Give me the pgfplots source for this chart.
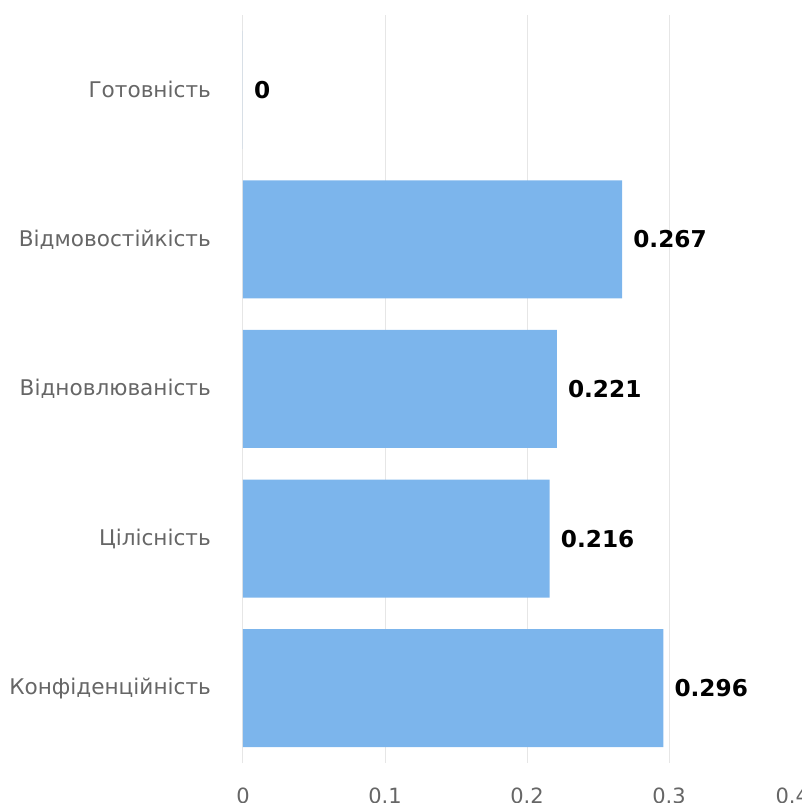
\documentclass[border=0pt]{standalone}
\usepackage{pgfplots}
\pgfplotsset{compat=1.18}
\usepackage{fontspec}
\setmainfont{DejaVu Sans}
\definecolor{barblue}{HTML}{7CB5EC}
\definecolor{gridgray}{HTML}{E6E6E6}
\definecolor{axisblue}{HTML}{CCD6EB}
\definecolor{labelgray}{HTML}{666666}
\begin{document}
\begin{tikzpicture}
\begin{axis}[
 name=ax,
 scale only axis,
 width=568pt, height=748pt,
 xmin=0, xmax=0.4, ymin=-0.5, ymax=4.5,
 xbar, bar width=118pt,
 axis line style={draw=none},
 xtick={0,0.1,0.2,0.3,0.4},
 xticklabels={0,0.1,0.2,0.3,\makebox[0pt][r]{0.4\hspace{2pt}}},
 ytick={0,1,2,3,4},
 yticklabels={Конфіденційність,Цілісність,Відновлюваність,Відмовостійкість,Готовність},
 xmajorgrids, major grid style={gridgray, line width=1pt},
 major tick length=0pt,
 tick style={draw=none},
 xticklabel style={font=\fontsize{21}{25}\selectfont, text=labelgray, inner sep=0pt, yshift=-25pt},
 yticklabel style={font=\fontsize{21.6}{26}\selectfont, text=labelgray, inner sep=0pt, xshift=-32pt},
 extra x ticks={0}, extra x tick labels={},
 extra x tick style={grid style={axisblue, line width=1.2pt}},
 /pgf/number format/fixed,
 /pgf/number format/precision=3,
 /pgf/number format/assume math mode=true,
 nodes near coords,
 nodes near coords style={font=\bfseries\fontsize{23.2}{27}\selectfont, text=black, anchor=west, inner sep=0pt, xshift=11pt},
 clip=false,
]
\addplot[fill=barblue, draw=none] coordinates {(0.296,0) (0.216,1) (0.221,2) (0.267,3) (0,4)};
\end{axis}
\pgfresetboundingbox
\path ([xshift=-243pt,yshift=-40pt]ax.south west) rectangle ([xshift=-10pt,yshift=15pt]ax.north east);
\end{tikzpicture}
\end{document}
